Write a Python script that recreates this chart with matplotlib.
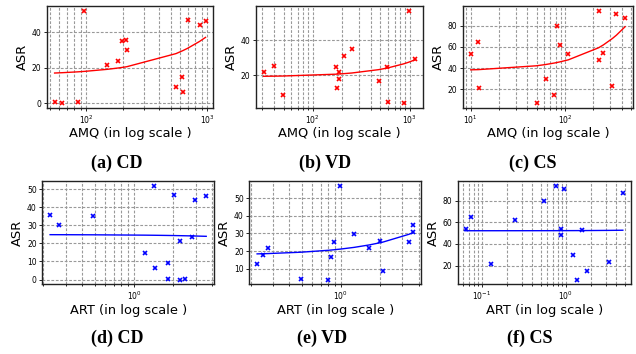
import numpy as np
import matplotlib.pyplot as plt
from matplotlib.ticker import NullFormatter, FixedLocator

# ASR per dataset, with AMQ and ART of the same runs
asr_cd = [0.5, 0.0, 0.5, 52, 21.5, 23.5, 35, 35.5, 30, 9, 14.5, 6.5, 47, 44, 46]
amq_cd = [55, 63, 85, 97, 150, 184, 198, 213, 217, 553, 624, 632, 690, 865, 968]
art_cd = [1.84, 2.26, 2.46, 1.43, 2.24, 2.78, 0.485, 0.226, 0.265, 1.82, 1.21, 1.45, 2.02, 2.93, 3.59]

asr_vd = [22, 25.5, 9, 25, 13, 22, 18, 31, 35, 17, 25, 4.5, 4, 57, 29.5]
amq_vd = [31, 40, 49, 172, 179, 185, 186, 212, 253, 478, 586, 600, 869, 976, 1148]
art_vd = [0.274, 2.02, 2.13, 0.889, 0.225, 1.66, 0.25, 3.64, 3.62, 0.838, 3.37, 0.492, 0.80, 0.99, 1.27]

asr_cs = [53.5, 65, 21, 7, 30, 14.5, 80, 62, 53, 48, 94, 54, 23.5, 91, 87]
amq_cs = [10, 11.9, 12.1, 50, 62.4, 77, 83, 88, 109, 228, 229, 257, 320, 353, 436]
art_cs = [0.064, 0.0746, 0.127, 1.35, 1.23, 1.79, 0.556, 0.251, 1.55, 0.88, 0.773, 0.887, 3.27, 0.96, 4.77]

# linear fits (intercept, slope)
fit_amq_cd = (15.8, 0.0219)
fit_amq_vd = (19.2, 0.0085)
fit_amq_cs = (37.5, 0.095)
fit_art_cd = (24.9, -0.27)
fit_art_vd = (17.7, 3.51)
fit_art_cs = (52.2, 0.1)

captions = ['(a) CD', '(b) VD', '(c) CS', '(d) CD', '(e) VD', '(f) CS']

fig = plt.figure(figsize=(6.36, 3.54), dpi=100)
GRID = dict(ls=(0, (2.5, 1.5)), color='#999999', lw=0.8)


def drawPanel(rect, x, y, fit, color, xlabel, yticks):
    ax = fig.add_axes(rect)
    x = np.array(x, dtype=float)
    ax.plot(x, y, 'x', color=color, ms=3.5, mew=1.2, zorder=3)
    xs = np.sort(x)
    ax.plot(xs, fit[0] + fit[1] * xs, '-', color=color, lw=1.0, zorder=2)
    ax.set_xscale('log')
    # log-space 5% margins around the data
    lx = np.log10(x)
    pad = 0.05 * (lx.max() - lx.min())
    lo, hi = 10 ** (lx.min() - pad), 10 ** (lx.max() + pad)
    # minor ticks 2..9 of every decade in view, each with a grid line
    minors = [k * 10.0 ** d
              for d in range(int(np.floor(np.log10(lo))), int(np.ceil(np.log10(hi))) + 1)
              for k in range(2, 10)]
    minors = [m for m in minors if lo <= m <= hi]
    ax.xaxis.set_minor_locator(FixedLocator(minors))
    ax.xaxis.set_minor_formatter(NullFormatter())
    for m in minors:
        ax.axvline(m, zorder=1, **GRID)
    ax.set_xlim(lo, hi)
    ax.set_yticks(yticks)
    ax.tick_params(which='both', labelsize=5.5, length=2.5, width=0.6, pad=1.5)
    ax.tick_params(which='minor', length=1.5)
    ax.set_xlabel(xlabel, fontsize=9.4, labelpad=1)
    ax.set_ylabel('ASR', fontsize=9.4, labelpad=2)
    ax.set_axisbelow(True)
    ax.grid(True, which='major', **GRID)
    for s in ax.spines.values():
        s.set_linewidth(1.0)
        s.set_color('#222222')
    return ax


top_b, top_h = 0.695, 0.288
bot_b, bot_h = 0.197, 0.292

drawPanel([0.074, top_b, 0.261, top_h], amq_cd, asr_cd, fit_amq_cd, 'r',
          'AMQ (in log scale )', [0, 20, 40])
drawPanel([0.4025, top_b, 0.2626, top_h], amq_vd, asr_vd, fit_amq_vd, 'r',
          'AMQ (in log scale )', [20, 40])
drawPanel([0.728, top_b, 0.267, top_h], amq_cs, asr_cs, fit_amq_cs, 'r',
          'AMQ (in log scale )', [20, 40, 60, 80])
drawPanel([0.0665, bot_b, 0.27, bot_h], art_cd, asr_cd, fit_art_cd, 'b',
          'ART (in log scale )', [0, 10, 20, 30, 40, 50])
drawPanel([0.392, bot_b, 0.27, bot_h], art_vd, asr_vd, fit_art_vd, 'b',
          'ART (in log scale )', [10, 20, 30, 40, 50])
drawPanel([0.7197, bot_b, 0.272, bot_h], art_cs, asr_cs, fit_art_cs, 'b',
          'ART (in log scale )', [20, 40, 60, 80])

# sub-figure captions
cap_x = [117, 325, 533, 117, 322, 530]
cap_y = [163, 163, 163, 338, 338, 338]
for txt, cx, cy in zip(captions, cap_x, cap_y):
    fig.text(cx / 636, 1 - cy / 354, txt, ha='center', va='center',
             fontsize=13, fontweight='bold', family='Liberation Serif')

fig.savefig('out.png', dpi=100)
